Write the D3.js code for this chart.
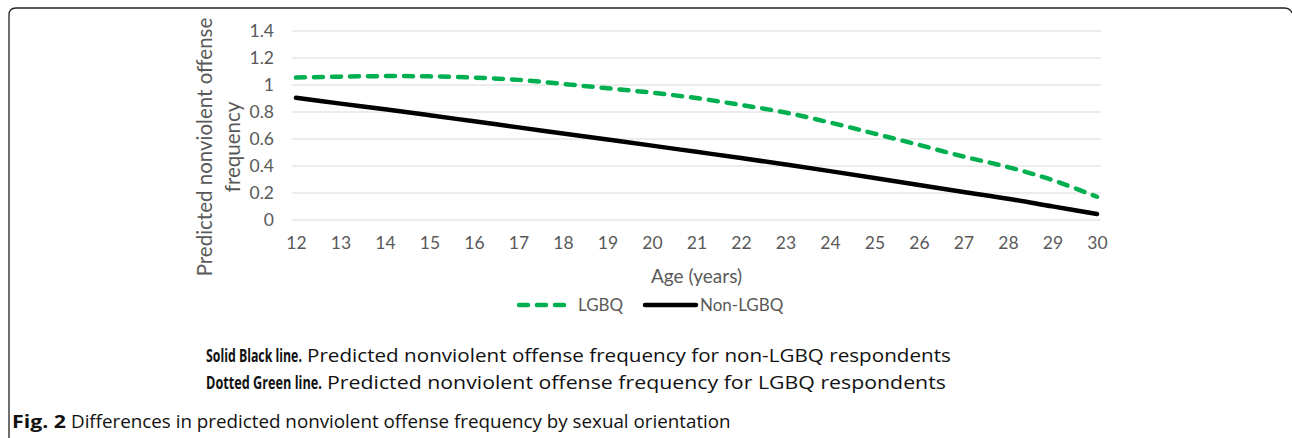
<!DOCTYPE html>
<html>
<head>
<meta charset="utf-8">
<script src="https://cdn.jsdelivr.net/npm/d3@7"></script>
<style>
  body { margin: 0; background: #fff; }
  svg { display: block; }
</style>
</head>
<body>
<svg id="chart" width="1292" height="438"></svg>
<script>
// data
const ages = [12, 13, 14, 15, 16, 17, 18, 19, 20, 21, 22, 23, 24, 25, 26, 27, 28, 29, 30];
const lgbq = [1.055, 1.062, 1.066, 1.064, 1.055, 1.038, 1.008, 0.976, 0.943, 0.903, 0.852, 0.796, 0.722, 0.640, 0.556, 0.470, 0.392, 0.296, 0.172];
const nonLgbq = [0.905, 0.862, 0.820, 0.776, 0.731, 0.686, 0.641, 0.596, 0.551, 0.505, 0.459, 0.411, 0.362, 0.311, 0.259, 0.208, 0.158, 0.101, 0.045];
const yTicks = [0, 0.2, 0.4, 0.6, 0.8, 1, 1.2, 1.4];
const seriesNames = ["LGBQ", "Non-LGBQ"];

const svg = d3.select("#chart");
const font = "Lato, 'Open Sans', sans-serif";
const grey = "#595959";

// frame round the figure
svg.append("path")
  .attr("d", "M9,438 L9,15 Q9,8 16,8 L1284,8 Q1291,8 1293,15")
  .attr("fill", "none")
  .attr("stroke", "#222")
  .attr("stroke-width", 1.3);

// scales
const x = d3.scaleLinear().domain([12, 30]).range([296, 1097]);
const y = d3.scaleLinear().domain([0, 1.4]).range([220, 31]);

// gridlines
svg.append("g")
  .selectAll("line")
  .data(yTicks)
  .enter()
  .append("line")
    .attr("x1", x(12) - 4)
    .attr("x2", x(30) + 4)
    .attr("y1", d => y(d))
    .attr("y2", d => y(d))
    .attr("stroke", "#d9d9d9")
    .attr("stroke-width", 1);

// y axis labels
const yAxis = svg.append("g")
  .attr("transform", `translate(${x(12) - 19},0)`)
  .call(d3.axisLeft(y).tickValues(yTicks).tickSize(0).tickFormat(d3.format("")));
yAxis.select(".domain").remove();
yAxis.selectAll("text")
  .attr("fill", grey)
  .style("font-family", font)
  .style("font-size", "17.5px");

// x axis labels
const xAxis = svg.append("g")
  .attr("transform", `translate(0,${y(0) + 14})`)
  .call(d3.axisBottom(x).tickValues(ages).tickSize(0).tickFormat(d3.format("d")));
xAxis.select(".domain").remove();
xAxis.selectAll("text")
  .attr("fill", grey)
  .style("font-family", font)
  .style("font-size", "17.5px");

// lines
const line = d3.line()
  .x((d, i) => x(ages[i]))
  .y(d => y(d))
  .curve(d3.curveCatmullRom);

svg.append("path")
  .datum(nonLgbq)
  .attr("d", line)
  .attr("fill", "none")
  .attr("stroke", "#000")
  .attr("stroke-width", 4.5)
  .attr("stroke-linecap", "round");

svg.append("path")
  .datum(lgbq)
  .attr("d", line)
  .attr("fill", "none")
  .attr("stroke", "#00b050")
  .attr("stroke-width", 4.5)
  .attr("stroke-linecap", "round")
  .attr("stroke-dasharray", "9,9");

// axis titles
const yTitle = svg.append("text")
  .attr("transform", "translate(219,147) rotate(-90)")
  .attr("text-anchor", "middle")
  .attr("fill", grey)
  .style("font-family", font)
  .style("font-size", "20.5px");
yTitle.append("tspan").attr("x", 0).attr("y", -7).text("Predicted nonviolent offense");
yTitle.append("tspan").attr("x", 0).attr("y", 21).text("frequency");

svg.append("text")
  .attr("x", (x(12) + x(30)) / 2)
  .attr("y", 283)
  .attr("text-anchor", "middle")
  .attr("fill", grey)
  .style("font-family", font)
  .style("font-size", "19px")
  .text("Age (years)");

// legend
const legend = svg.append("g");
legend.append("line")
  .attr("x1", 519).attr("x2", 567).attr("y1", 305).attr("y2", 305)
  .attr("stroke", "#00b050").attr("stroke-width", 4.5)
  .attr("stroke-linecap", "round").attr("stroke-dasharray", "9,9");
legend.append("text")
  .attr("x", 578).attr("y", 311)
  .attr("fill", grey).style("font-family", font).style("font-size", "17px")
  .text(seriesNames[0]);
legend.append("line")
  .attr("x1", 645).attr("x2", 696).attr("y1", 305).attr("y2", 305)
  .attr("stroke", "#000").attr("stroke-width", 4.5)
  .attr("stroke-linecap", "round");
legend.append("text")
  .attr("x", 700).attr("y", 311)
  .attr("fill", grey).style("font-family", font).style("font-size", "17px")
  .text(seriesNames[1]);

// notes and caption: squeezed to the widths in the figure
const capFont = "'Open Sans', sans-serif";
function squeezed(xPos, yPos, str, weight, size, xEnd) {
  const t = svg.append("text")
    .attr("fill", "#111")
    .style("font-family", capFont).style("font-size", size + "px").style("font-weight", weight)
    .text(str);
  const w = t.node().getComputedTextLength();
  t.attr("transform", `translate(${xPos},${yPos}) scale(${(xEnd - xPos) / w},1)`);
}
function note(xPos, yPos, bold, rest, boldEnd, restEnd) {
  squeezed(xPos, yPos, bold, "bold", 18, boldEnd);
  squeezed(boldEnd + 5, yPos, rest, "normal", 18, restEnd);
}
note(206, 362, "Solid Black line.", "Predicted nonviolent offense frequency for non-LGBQ respondents", 302, 951);
note(206, 389, "Dotted Green line.", "Predicted nonviolent offense frequency for LGBQ respondents", 322, 946);
note(12, 428, "Fig. 2", "Differences in predicted nonviolent offense frequency by sexual orientation", 66, 731);
</script>
</body>
</html>
